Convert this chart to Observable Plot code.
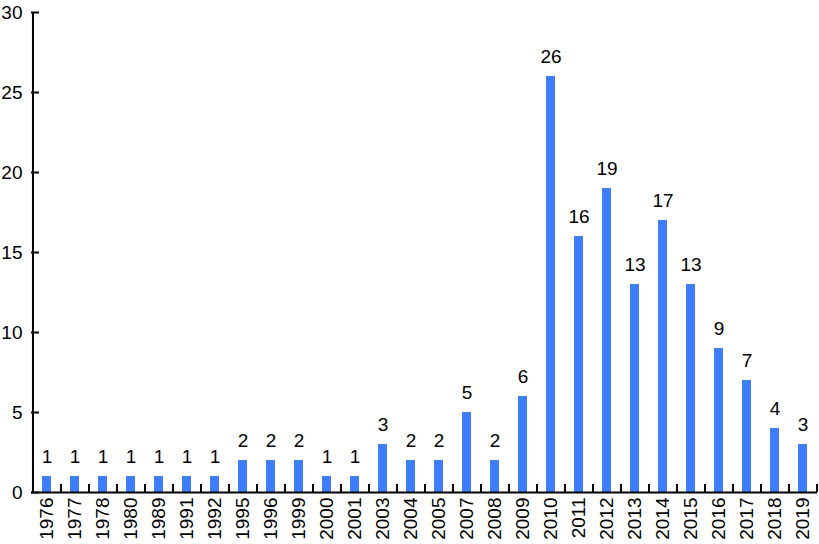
<!DOCTYPE html>
<html>
<head>
<meta charset="utf-8">
<script src="https://cdn.jsdelivr.net/npm/d3@7"></script>
<script src="https://cdn.jsdelivr.net/npm/@observablehq/plot@0.6"></script>
<style>
  body { margin: 0; background: #fff; }
  #chart svg { font-family: Arial, "Liberation Sans", sans-serif; }
</style>
</head>
<body>
<div id="chart"></div>
<script>
const years = ["1976","1977","1978","1980","1989","1991","1992","1995","1996","1999","2000","2001","2003","2004","2005","2007","2008","2009","2010","2011","2012","2013","2014","2015","2016","2017","2018","2019"];
const counts = [1,1,1,1,1,1,1,2,2,2,1,1,3,2,2,5,2,6,26,16,19,13,17,13,9,7,4,3];
const yTicks = [0,5,10,15,20,25,30];

const data = years.map((y, i) => ({year: y, count: counts[i]}));

const W = 819, H = 544;
const mL = 31, mR = 2, mT = 12, mB = 52;
const step = (W - mL - mR) / years.length;
const color = "#3f7bfd";

const chart = Plot.plot({
  width: W,
  height: H,
  marginLeft: mL,
  marginRight: mR,
  marginTop: mT,
  marginBottom: mB,
  style: {fontSize: "18px", fontFamily: "Arial, 'Liberation Sans', sans-serif", color: "#000", background: "#fff"},
  x: {domain: years, paddingInner: 0.68, paddingOuter: 0.34, label: null},
  y: {domain: [0, 30], label: null},
  marks: [
    Plot.barY(data, {x: "year", y: "count", fill: color}),
    Plot.text(data, {x: "year", y: "count", text: d => String(d.count), lineAnchor: "bottom", dy: -14, fontSize: 19, fill: "#000"}),
    Plot.ruleY([0], {stroke: "#000", strokeWidth: 2}),
    Plot.ruleX([years[0]], {dx: -step / 2, y1: 0, y2: 30, stroke: "#000", strokeWidth: 2}),
    Plot.ruleX(years, {x: d => d, dx: step / 2, y1: 0, y2: 0.5, stroke: "#000", strokeWidth: 2}),
    Plot.axisY({ticks: yTicks, tickSize: -8, tickPadding: 17, strokeWidth: 2, fontSize: 19, label: null}),
    Plot.axisX({tickSize: 0, tickRotate: -90, tickPadding: 5, fontSize: 19, label: null})
  ]
});
document.getElementById("chart").appendChild(chart);
</script>
</body>
</html>
